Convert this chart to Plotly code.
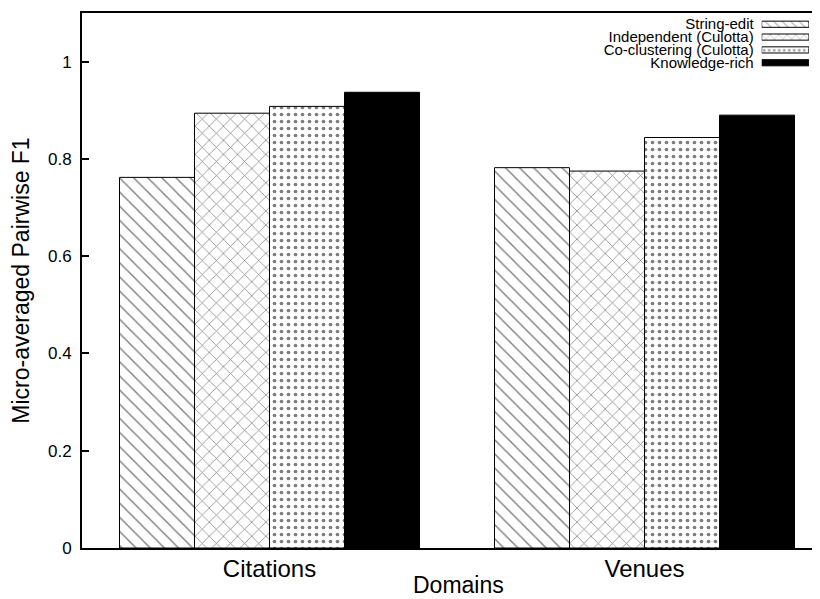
import plotly.graph_objects as go

categories = ["Citations", "Venues"]
series = ["String-edit", "Independent (Culotta)", "Co-clustering (Culotta)", "Knowledge-rich"]
values = {
    "String-edit": [0.762, 0.782],
    "Independent (Culotta)": [0.894, 0.775],
    "Co-clustering (Culotta)": [0.908, 0.844],
    "Knowledge-rich": [0.937, 0.890],
}
y_ticks = [0, 0.2, 0.4, 0.6, 0.8, 1]

styles = {
    "String-edit": dict(color="white", pattern=dict(shape="\\", size=10, solidity=0.14)),
    "Independent (Culotta)": dict(color="white", pattern=dict(shape="x", size=10, solidity=0.14)),
    "Co-clustering (Culotta)": dict(color="white", pattern=dict(shape=".", size=7, solidity=0.22)),
    "Knowledge-rich": dict(color="black", pattern=dict(shape="", size=8, solidity=0.3)),
}

FONT = "Liberation Sans, Arial, Helvetica, sans-serif"
fig = go.Figure()
for s in series:
    st = styles[s]
    fig.add_trace(go.Bar(
        x=categories, y=values[s], name=s, showlegend=False,
        marker=dict(
            color=st["color"],
            pattern=dict(shape=st["pattern"]["shape"], size=st["pattern"]["size"],
                         solidity=st["pattern"]["solidity"], fgcolor="black",
                         bgcolor="white", fillmode="overlay"),
            line=dict(color="black", width=1),
        ),
        xaxis="x", yaxis="y",
    ))

# legend keys drawn on a small auxiliary axis (text = its category tick labels)
fig.add_trace(go.Bar(
    y=series, x=[1] * len(series), orientation="h", showlegend=False, width=0.48,
    marker=dict(
        color=[styles[s]["color"] for s in series],
        pattern=dict(
            shape=[styles[s]["pattern"]["shape"] for s in series],
            size=[6, 6, 5, 6],
            solidity=[0.16, 0.16, 0.25, 0.3],
            fgcolor="black", bgcolor="white", fillmode="overlay",
        ),
        line=dict(color="black", width=1),
    ),
    xaxis="x2", yaxis="y2", hoverinfo="skip",
))

fig.update_layout(
    width=812, height=591,
    margin=dict(l=74, r=0, t=5, b=51),
    paper_bgcolor="white", plot_bgcolor="white",
    barmode="group", bargap=0.2, bargroupgap=0,
    font=dict(family=FONT, color="black"),
    xaxis=dict(
        domain=[0, 1], type="category", range=[-0.5, 1.468],
        showline=True, linecolor="black", linewidth=2, mirror=True,
        ticks="", showgrid=False, zeroline=False,
        tickfont=dict(size=24), ticklabelstandoff=-2,
        automargin=False,
    ),
    yaxis=dict(
        range=[0, 1.1], tickvals=y_ticks, ticktext=[f"{v:g}" for v in y_ticks],
        showline=True, linecolor="black", linewidth=2, mirror=False,
        ticks="inside", ticklen=7, tickwidth=2, tickcolor="black",
        showgrid=False, zeroline=False,
        tickfont=dict(size=17), ticklabelstandoff=5,
        title=dict(text="Micro-averaged Pairwise F1", font=dict(size=23), standoff=14),
        automargin=False,
    ),
    xaxis2=dict(domain=[0.921, 0.985], anchor="y2", range=[0, 1], visible=False, fixedrange=True),
    yaxis2=dict(
        domain=[0.895, 0.991], anchor="x2", type="category", autorange="reversed",
        tickmode="array", tickvals=series, ticktext=series,
        showline=False, showgrid=False, zeroline=False, ticks="",
        tickfont=dict(size=15), ticklabelstandoff=7, fixedrange=True, automargin=False,
    ),
    annotations=[dict(
        text="Domains", xref="paper", yref="paper", x=0.5095, y=0,
        xanchor="center", yanchor="middle", yshift=-37, showarrow=False,
        font=dict(size=23),
    )],
)

fig.write_html("out.html")
